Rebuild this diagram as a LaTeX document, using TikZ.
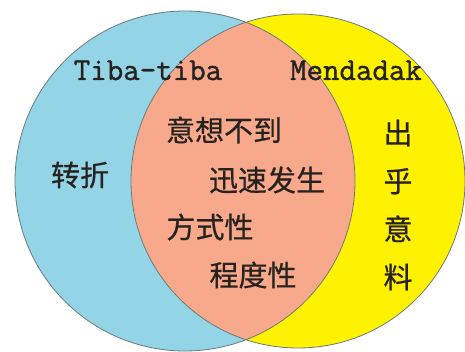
\documentclass[tikz,border=0pt]{standalone}
\usepackage{fontspec}
\setmonofont[FakeBold=1.2]{Latin Modern Mono}
\newfontfamily\cjk[FakeBold=0.6]{Noto Sans CJK SC}
\definecolor{vblue}{HTML}{93D4E7}
\definecolor{vyellow}{HTML}{FFF200}
\definecolor{vsalmon}{HTML}{F9A98B}
\definecolor{vline}{HTML}{6A7A7C}
\definecolor{vtext}{HTML}{262220}
\begin{document}
\begin{tikzpicture}[x=1pt,y=-1pt,
  lat/.style={font=\ttfamily\fontsize{32}{32}\selectfont, text=vtext, inner sep=0pt, anchor=base},
  zh/.style={font=\cjk\fontsize{29}{29}\selectfont, text=vtext, inner sep=0pt},
  zhv/.style={font=\cjk\fontsize{29}{48}\selectfont, text=vtext, inner sep=0pt, align=center}]
\useasboundingbox (0,0) rectangle (465,352);
\begin{scope}
  \clip (0,0) rectangle (465,352);
  \fill[vblue] (185,181) circle[radius=170];
  \fill[vyellow] (298,181) circle[radius=167];
  \begin{scope}
    \clip (185,181) circle[radius=170];
    \fill[vsalmon] (298,181) circle[radius=167];
  \end{scope}
  \draw[vline, line width=0.8pt] (185,181) circle[radius=170];
  \draw[vline, line width=0.8pt] (298,181) circle[radius=167];
\end{scope}
\node[lat] (tiba) at (148,80) {Tiba-tiba};
\node[lat] (mend) at (356,80) {Mendadak};
\node[zh] (zhuanzhe) at (80,175) {转折};
\node[zh] (yixiang) at (224,130) {意想不到};
\node[zh] (xunsu) at (267,180) {迅速发生};
\node[zh] (fangshi) at (210,227) {方式性};
\node[zh] (chengdu) at (253,275) {程度性};
\node[zhv] (chuhu) at (398,205) {出\\乎\\意\\料};
\end{tikzpicture}
\end{document}
